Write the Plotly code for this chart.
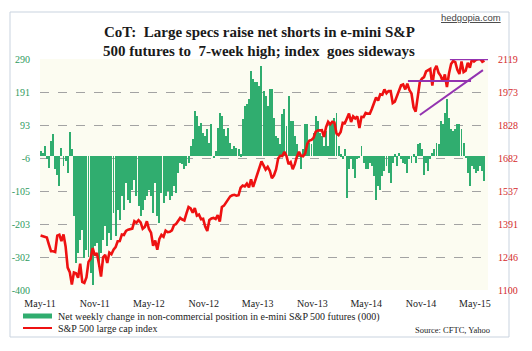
import numpy as np
import pandas as pd
import plotly.graph_objects as go

# ---------------- data ----------------
net_change = [
    15, 10, 30, -10, -35, 45, 65, -40, -55, -90, 25, -30, -15, -50, 72, 20,
    -180, -320, -290, -250, -220, -305, -280, -300, -350, -385, -270, -260, -330, -290, -250,
    -210, -270, -230, -250, -170, -240, -160, -190, -120, -160, -80, -130, -140, -100, -70,
    -120, -150, -180, -160, -130, -120, -100, -120, -170, -80, -180, -200, -110, -140, -120,
    -105, -130, -120, -90, -110, -50, -20, -25, -40, -30, -20, 30, 50, 135, 120, 90, 100,
    70, 60, 80, 40, 95, -5, 15, 85, 130, 120, 80, 60, 85, 40, 20, 30, 25, 20, 5, 110, 150,
    155, 170, 255, 230, 220, 220, 210,
    270, 195, 180, 150, 200, 200, 115, 60, 55, 35, 125, 140, 90, 180, 105, 105, 60, 35, 5,
    -40, 20, 95, 95, 40, 35, 70, 120, 105, 70, 60, 30, 75, 30, 100, 105, 115, 130, 30, 5,
    -10, 20, -125, -40, -10, -40, -65, -10, -5, 30, -20, -40,
    -40, -20, -30, -60, -130, -90, -100, -60, -45, -30, -50, -80, -20, 5, -30, 10, -10, -20,
    -25, -50, -10, -20, 5, -20, 35, 40, 20, -55, -20, -45, -10, 10, 20, 40, 35, 105, 95, 130,
    170, 115, 80, 75, 80, 95, 95, 80, 40, -5, -50, -90, -30, -40, -50, -45, -30, -45, -75,
]

sp500 = [
    1340, 1338, 1333, 1331, 1300, 1271, 1271, 1268, 1340, 1344, 1316, 1345, 1292, 1199, 1179,
    1124, 1177, 1174, 1154, 1216, 1136, 1131, 1155, 1224, 1238, 1285, 1253, 1263, 1216, 1159,
    1244, 1255, 1219, 1265, 1258,
    1278, 1289, 1315, 1316, 1345, 1343, 1361, 1366, 1370, 1371, 1404, 1397, 1408, 1398, 1370,
    1378, 1403, 1369, 1353, 1295, 1318, 1278, 1325, 1343, 1335, 1362, 1355, 1357, 1363, 1386,
    1391, 1405, 1418, 1411, 1407, 1438, 1466, 1460, 1441, 1461, 1428, 1433, 1412, 1414, 1380,
    1360, 1409, 1416, 1418, 1413, 1430, 1402,
    1466, 1472, 1486, 1503, 1513, 1518, 1520, 1516, 1518, 1551, 1561, 1557, 1569, 1553, 1588,
    1555, 1582, 1614, 1633, 1667, 1650, 1631, 1643, 1626, 1593, 1606, 1632, 1680, 1692, 1691,
    1710, 1691, 1655, 1664, 1633, 1655, 1688, 1710, 1692, 1690, 1703, 1745, 1759, 1762, 1771,
    1798, 1804, 1806, 1805, 1775, 1818, 1842,
    1831, 1842, 1839, 1790, 1783, 1797, 1838, 1836, 1859, 1878, 1841, 1866, 1857, 1865, 1815,
    1864, 1863, 1881, 1878, 1878, 1900, 1924, 1949, 1936, 1963, 1961, 1985, 1968, 1978, 1978,
    1925, 1931, 1955, 1988, 2003, 2007, 1985, 2010, 1982, 1967, 1906, 1887, 1964, 2018, 2032,
    2039, 2064, 2068, 2075, 2002, 2071, 2089,
    2058, 2045, 2019, 2051, 1995, 2055, 2097, 2110, 2105, 2071, 2053, 2108, 2061, 2067, 2102,
    2081, 2117, 2108, 2116, 2118, 2119, 2107, 2112,
]

start_date = "2011-05-03"

x_tick_dates = ["2011-05-01", "2011-11-01", "2012-05-01", "2012-11-01", "2013-05-01",
                "2013-11-01", "2014-05-01", "2014-11-01", "2015-05-01"]
x_tick_labels = ["May-11", "Nov-11", "May-12", "Nov-12", "May-13",
                 "Nov-13", "May-14", "Nov-14", "May-15"]

left_labels = ["-400", "-302", "-203", "-105", "-6", "93", "191", "290"]
right_labels = ["1100", "1246", "1391", "1537", "1682", "1828", "1973", "2119"]

# trend lines drawn on the index (date, level)
trend_top_x = ["2015-02-06", "2015-06-14"]
trend_top_y = [2118, 2118]
trend_mid_x = ["2014-09-18", "2015-04-18"]
trend_mid_y = [2022, 2022]
trend_diag_x = ["2014-10-28", "2015-05-28"]
trend_diag_y = [1872, 2070]

# ---------------- figure ----------------
net_dates = pd.date_range(start_date, periods=len(net_change), freq="7D")
sp_dates = pd.date_range(start_date, periods=len(sp500), freq="7D")

GREEN = "#30ad6f"
RED = "#ee1111"
PURPLE = "#9333b0"
SERIF = "Liberation Serif, Times New Roman, serif"

fig = go.Figure()
fig.add_trace(go.Bar(
    x=net_dates, y=net_change, marker=dict(color=GREEN, line=dict(width=0)),
    width=3.2 * 86400000, name="Net weekly change", showlegend=False,
))
fig.add_trace(go.Scatter(
    x=sp_dates, y=sp500, yaxis="y2", mode="lines",
    line=dict(color=RED, width=2.6), name="S&P 500", showlegend=False,
))
for tx, ty in [(trend_top_x, trend_top_y), (trend_mid_x, trend_mid_y), (trend_diag_x, trend_diag_y)]:
    fig.add_trace(go.Scatter(x=tx, y=ty, yaxis="y2", mode="lines",
                             line=dict(color=PURPLE, width=2), showlegend=False,
                             hoverinfo="skip"))

W, H = 532, 351
L, R, T, B = 40, 44, 59, 61
pw, ph = W - L - R, H - T - B

def px(x):
    return (x - L) / pw

def py(y):
    return (H - B - y) / ph

fig.update_layout(
    width=W, height=H,
    margin=dict(l=L, r=R, t=T, b=B, pad=0),
    paper_bgcolor="white",
    plot_bgcolor="#fcfcf1",
    bargap=0,
    xaxis=dict(
        type="date", range=["2011-05-01", "2015-06-14"],
        tickvals=x_tick_dates, ticktext=x_tick_labels,
        showgrid=False, zeroline=False, showline=False,
        ticks="outside", ticklen=4, tickcolor="rgba(0,0,0,0)",
        tickfont=dict(family=SERIF, size=10, color="#222222"),
    ),
    yaxis=dict(
        range=[-400, 290], tickvals=list(np.linspace(-400, 290, 8)), ticktext=left_labels,
        showgrid=True, gridcolor="#a3a3a3", griddash="dash", gridwidth=1,
        zeroline=False, showline=False,
        ticks="outside", ticklen=7, tickcolor="rgba(0,0,0,0)",
        tickfont=dict(family=SERIF, size=10, color="#2e9a5e"),
    ),
    yaxis2=dict(
        range=[1100, 2119], tickvals=list(np.linspace(1100, 2119, 8)), ticktext=right_labels,
        overlaying="y", side="right", showgrid=False, zeroline=False, showline=False,
        ticks="outside", ticklen=7, tickcolor="rgba(0,0,0,0)",
        tickfont=dict(family=SERIF, size=10, color="#d42a2a"),
    ),
    shapes=[
        dict(type="rect", xref="paper", yref="paper", x0=px(10), x1=px(509), y0=py(337), y1=py(12),
             line=dict(color="#c9d3df", width=1), fillcolor="rgba(0,0,0,0)", layer="below"),
        dict(type="rect", xref="paper", yref="paper", x0=px(23), x1=px(52), y0=py(318.5), y1=py(313.5),
             line=dict(width=0), fillcolor=GREEN),
        dict(type="line", xref="paper", yref="paper", x0=px(23), x1=px(52), y0=py(328), y1=py(328),
             line=dict(color=RED, width=2)),
    ],
    annotations=[
        dict(text="<b>CoT:\u00a0 Large specs raise net shorts in e-mini S&amp;P</b>",
             xref="paper", yref="paper", x=px(259), y=py(32), xanchor="center", yanchor="middle",
             showarrow=False, font=dict(family=SERIF, size=15, color="#1a1a1a")),
        dict(text="<b>500 futures to\u00a0 7-week high; index\u00a0 goes sideways</b>",
             xref="paper", yref="paper", x=px(259), y=py(51), xanchor="center", yanchor="middle",
             showarrow=False, font=dict(family=SERIF, size=15, color="#1a1a1a")),
        dict(text="<u>hedgopia.com</u>", xref="paper", yref="paper", x=px(503), y=py(18),
             xanchor="right", yanchor="middle", showarrow=False,
             font=dict(family="Liberation Sans, Arial, sans-serif", size=9.5, color="#444444")),
        dict(text="Net weekly change in non-commercial position in e-mini S&amp;P 500 futures (000)",
             xref="paper", yref="paper", x=px(56), y=py(316.5), xanchor="left", yanchor="middle",
             showarrow=False, font=dict(family=SERIF, size=10, color="#222222")),
        dict(text="S&amp;P 500 large cap index",
             xref="paper", yref="paper", x=px(56), y=py(328), xanchor="left", yanchor="middle",
             showarrow=False, font=dict(family=SERIF, size=10, color="#222222")),
        dict(text="Source: CFTC, Yahoo",
             xref="paper", yref="paper", x=px(492), y=py(330), xanchor="right", yanchor="middle",
             showarrow=False, font=dict(family=SERIF, size=8.5, color="#222222")),
    ],
)

fig.write_html("out.html")
